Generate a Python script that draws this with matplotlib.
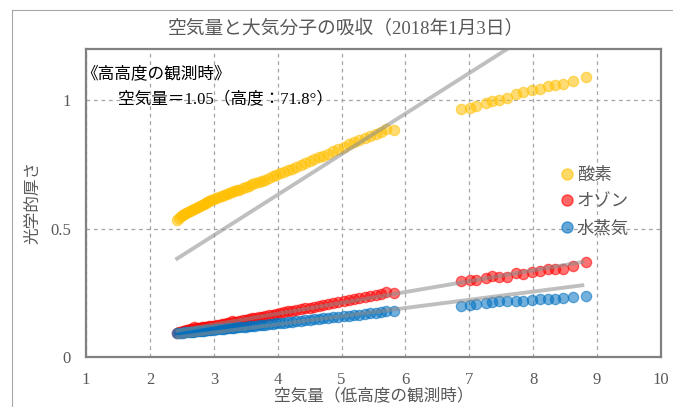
import matplotlib.pyplot as plt
from matplotlib.lines import Line2D

plt.rcParams['font.family'] = ['Liberation Serif', 'Noto Sans CJK JP']

# --- data ---
# low-altitude observation, first run (airmass 2.4 - 5.8)
air1 = [2.42, 2.45, 2.48, 2.51, 2.54, 2.57, 2.60, 2.63, 2.66, 2.69, 2.72, 2.75, 2.78,
        2.81, 2.84, 2.87, 2.90, 2.93, 2.96, 3.00, 3.04, 3.08, 3.12, 3.16, 3.20, 3.24,
        3.28, 3.32, 3.36, 3.40, 3.45, 3.50, 3.55, 3.60, 3.65, 3.70, 3.75, 3.80, 3.86,
        3.92, 3.98, 4.04, 4.10, 4.16, 4.22, 4.29, 4.36, 4.43, 4.50, 4.57, 4.64, 4.71,
        4.79, 4.87, 4.95, 5.03, 5.11, 5.19, 5.27, 5.36, 5.45, 5.54, 5.62, 5.70, 5.82]
oxygen1 = [0.535, 0.541, 0.547, 0.551, 0.556, 0.561, 0.565, 0.569, 0.573, 0.577, 0.581,
           0.585, 0.589, 0.592, 0.596, 0.600, 0.603, 0.607, 0.610, 0.614, 0.618, 0.622,
           0.626, 0.629, 0.633, 0.637, 0.641, 0.645, 0.649, 0.652, 0.657, 0.662, 0.667,
           0.672, 0.677, 0.681, 0.686, 0.691, 0.697, 0.703, 0.709, 0.715, 0.721, 0.727,
           0.733, 0.740, 0.747, 0.754, 0.762, 0.769, 0.777, 0.784, 0.792, 0.801, 0.810,
           0.819, 0.828, 0.836, 0.845, 0.853, 0.861, 0.868, 0.876, 0.886, 0.884]
ozone1 = [0.092, 0.096, 0.099, 0.100, 0.102, 0.104, 0.105, 0.107, 0.108, 0.115, 0.111,
          0.112, 0.113, 0.115, 0.116, 0.117, 0.118, 0.120, 0.121, 0.122, 0.124, 0.126,
          0.127, 0.129, 0.131, 0.133, 0.140, 0.136, 0.138, 0.140, 0.142, 0.145, 0.147,
          0.150, 0.152, 0.155, 0.157, 0.160, 0.162, 0.165, 0.168, 0.171, 0.174, 0.177,
          0.179, 0.182, 0.186, 0.189, 0.192, 0.195, 0.199, 0.202, 0.206, 0.210, 0.214,
          0.218, 0.222, 0.226, 0.230, 0.234, 0.238, 0.240, 0.244, 0.253, 0.249]
water1 = [0.092, 0.093, 0.094, 0.095, 0.096, 0.096, 0.097, 0.098, 0.098, 0.099, 0.100,
          0.100, 0.101, 0.102, 0.102, 0.103, 0.104, 0.104, 0.105, 0.106, 0.107, 0.108,
          0.109, 0.110, 0.111, 0.112, 0.113, 0.114, 0.115, 0.116, 0.117, 0.118, 0.120,
          0.121, 0.122, 0.124, 0.125, 0.126, 0.128, 0.129, 0.131, 0.132, 0.134, 0.135,
          0.137, 0.139, 0.141, 0.142, 0.144, 0.146, 0.148, 0.150, 0.152, 0.154, 0.156,
          0.158, 0.160, 0.162, 0.165, 0.167, 0.170, 0.172, 0.174, 0.178, 0.180]

# second run (airmass 6.9 - 8.8)
air2 = [6.87, 7.01, 7.10, 7.26, 7.36, 7.47, 7.59, 7.73, 7.84, 7.98, 8.10, 8.23, 8.34,
        8.47, 8.63, 8.83]
oxygen2 = [0.965, 0.971, 0.978, 0.990, 0.996, 1.002, 1.008, 1.026, 1.030, 1.041, 1.045,
           1.054, 1.061, 1.063, 1.074, 1.092]
ozone2 = [0.294, 0.299, 0.301, 0.306, 0.315, 0.313, 0.310, 0.328, 0.323, 0.331, 0.336,
          0.341, 0.343, 0.343, 0.354, 0.368]
water2 = [0.199, 0.203, 0.206, 0.210, 0.215, 0.216, 0.216, 0.219, 0.219, 0.223, 0.225,
          0.225, 0.225, 0.228, 0.232, 0.238]

# reference lines (scaled from the high-altitude observation)
line_x = [2.4, 8.8]
oxygen_line = [0.379, 1.39]
ozone_line = [0.101, 0.371]
water_line = [0.076, 0.280]

labels = ['酸素', 'オゾン', '水蒸気']
colors = ['#FFC000', '#FF0000', '#0070C0']

fig = plt.figure(figsize=(6.73, 4.07), dpi=100)
ax = fig.add_axes([0.128, 0.123, 0.854, 0.757])

text_color = '#595959'

series = [(oxygen1, oxygen2), (ozone1, ozone2), (water1, water2)]
for (y1, y2), c in zip(series, colors):
    ax.scatter(air1 + air2, y1 + y2, s=55, facecolor=c, edgecolor=c,
               alpha=0.55, linewidths=0.9, zorder=3)

for ly in [oxygen_line, ozone_line, water_line]:
    ax.plot(line_x, ly, color='#8c8c8c', alpha=0.55, lw=2.8,
            solid_capstyle='butt', zorder=4)

ax.set_xlim(1, 10)
ax.set_ylim(0, 1.2)
ax.set_xticks(range(1, 11))
ax.set_yticks([0, 0.5, 1])
ax.set_yticklabels(['0', '0.5', '1'])
ax.tick_params(length=0, labelsize=12, labelcolor=text_color, pad=11)
ax.grid(True, color='#a6a6a6', linestyle=(0, (3, 3)), lw=0.9)
ax.set_axisbelow(True)
for sp in ax.spines.values():
    sp.set_color('#808080')
    sp.set_linewidth(1.6)

ax.set_xlabel('空気量（低高度の観測時）', fontsize=12, color=text_color, labelpad=1)
ax.set_ylabel('光学的厚さ', fontsize=12, color=text_color, labelpad=6)

fig.text(0.514, 0.93, '空気量と大気分子の吸収（2018年1月3日）', ha='center',
         va='center', fontsize=13.5, color=text_color)

ax.text(0.93, 1.10, '《高高度の観測時》', fontsize=12, color='black', va='center')
ax.text(1.5, 1.0, '空気量＝1.05（高度：71.8°）', fontsize=12, color='black',
        va='center')

handles = [Line2D([], [], marker='o', ls='', markersize=8, markerfacecolor=c,
                  markeredgecolor=c, alpha=0.6) for c in colors]
leg = ax.legend(handles, labels, loc='upper left', bbox_to_anchor=(0.795, 0.665),
                frameon=False, handletextpad=0.05, labelspacing=0.6,
                handlelength=1.0, prop={'size': 12.5})
for t in leg.get_texts():
    t.set_color(text_color)

# chart area border (only left and top edges fall inside the image)
fig.add_artist(Line2D([12 / 673, 12 / 673], [0, 1 - 10 / 407],
                      transform=fig.transFigure, color='#a6a6a6', lw=0.8))
fig.add_artist(Line2D([12 / 673, 1], [1 - 10 / 407, 1 - 10 / 407],
                      transform=fig.transFigure, color='#a6a6a6', lw=0.8))

fig.savefig('out.png', dpi=100)
